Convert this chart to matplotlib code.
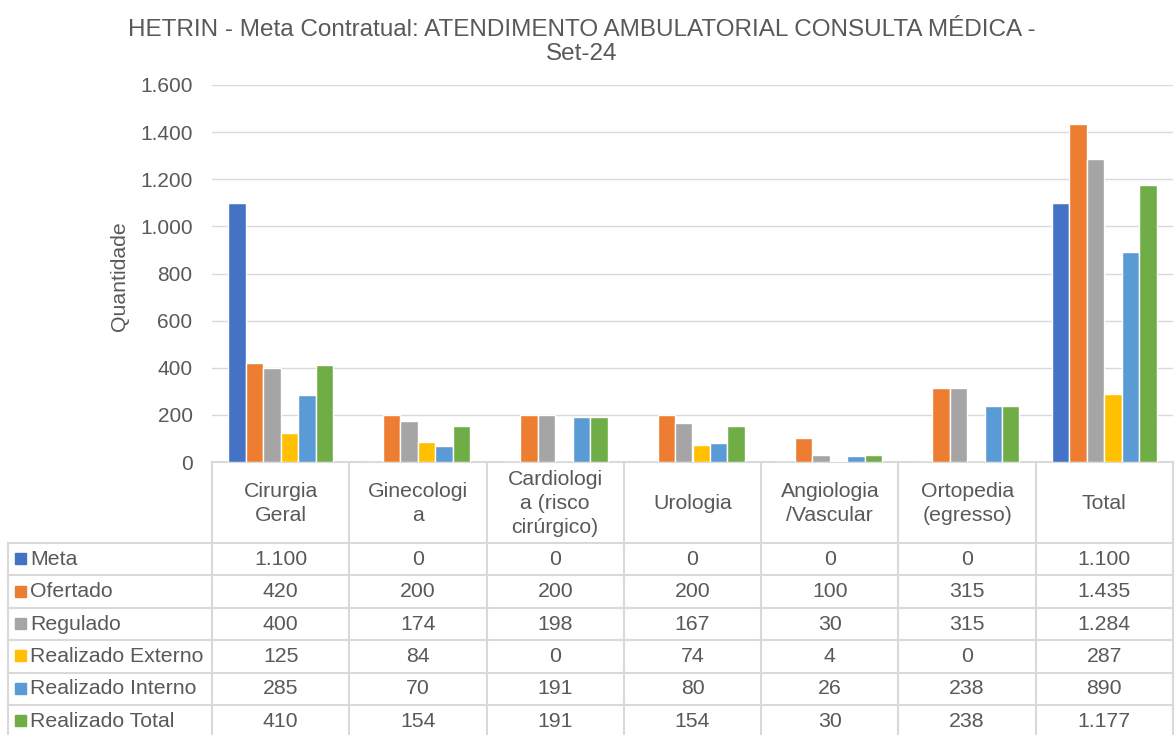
import numpy as np
import matplotlib.pyplot as plt
from matplotlib.ticker import FuncFormatter

plt.rcParams['font.family'] = ['Liberation Sans', 'DejaVu Sans']

# data
categories = ["Cirurgia\nGeral", "Ginecologi\na", "Cardiologi\na (risco\ncirúrgico)", "Urologia",
              "Angiologia\n/Vascular", "Ortopedia\n(egresso)", "Total"]
series_names = ["Meta", "Ofertado", "Regulado", "Realizado Externo", "Realizado Interno", "Realizado Total"]
meta = [1100, 0, 0, 0, 0, 0, 1100]
ofertado = [420, 200, 200, 200, 100, 315, 1435]
regulado = [400, 174, 198, 167, 30, 315, 1284]
real_externo = [125, 84, 0, 74, 4, 0, 287]
real_interno = [285, 70, 191, 80, 26, 238, 890]
real_total = [410, 154, 191, 154, 30, 238, 1177]
colors = ["#4472C4", "#ED7D31", "#A5A5A5", "#FFC000", "#5B9BD5", "#70AD47"]

series = [meta, ofertado, regulado, real_externo, real_interno, real_total]

txt = "#595959"
grid = "#D9D9D9"
W, H = 1175, 735
fs = 15.3

def fmt(v):
    return f"{v:,.0f}".replace(",", ".")

fig = plt.figure(figsize=(W / 100, H / 100), dpi=100)

x_left, x_right, y_top, y_bot = 212, 1173, 85, 462
ax = fig.add_axes([x_left / W, 1 - y_bot / H, (x_right - x_left) / W, (y_bot - y_top) / H])

n = len(categories)
x = np.arange(n)
slot = 0.127
for i, (vals, c) in enumerate(zip(series, colors)):
    ax.bar(x + (i - 2.5) * slot, vals, width=slot, color=c, edgecolor="white", linewidth=1.0, zorder=3)

ax.set_xlim(-0.5, n - 0.5)
ax.set_ylim(0, 1600)
ax.set_yticks(np.arange(0, 1601, 200))
ax.yaxis.set_major_formatter(FuncFormatter(lambda v, p: fmt(v)))
ax.set_xticks([])
ax.tick_params(axis="y", length=0, labelsize=15, labelcolor=txt, pad=14)
ax.grid(axis="y", color=grid, linewidth=1, zorder=0)
for s in ["top", "right", "left"]:
    ax.spines[s].set_visible(False)
ax.spines["bottom"].set_color(grid)
ax.spines["bottom"].set_linewidth(1.5)

fig.text(120 / W, 1 - 276 / H, "Quantidade", rotation=90, ha="center", va="center", fontsize=fs, color=txt)

fig.text(582 / W, 1 - 42 / H, "HETRIN - Meta Contratual: ATENDIMENTO AMBULATORIAL CONSULTA MÉDICA -\nSet-24",
         ha="center", va="center", fontsize=17.5, color=txt, linespacing=1.15)

# data table drawn in pixel coordinates
ov = fig.add_axes([0, 0, 1, 1])
ov.set_xlim(0, W)
ov.set_ylim(H, 0)
ov.axis("off")

cw = (x_right - x_left) / n
col_edges = [x_left + k * cw for k in range(n + 1)]
head_bot = 543
rh = 32.4
row_edges = [head_bot + k * rh for k in range(len(series) + 1)]
tab_left = 8

lw = 1.5
for xe in col_edges:
    ov.plot([xe, xe], [y_bot, H], color=grid, lw=lw)
ov.plot([tab_left, tab_left], [head_bot, H], color=grid, lw=lw)
for ye in row_edges:
    ov.plot([tab_left, x_right], [ye, ye], color=grid, lw=lw)

for j, cat in enumerate(categories):
    ov.text(col_edges[j] + cw / 2, (y_bot + head_bot) / 2 + 1, cat, ha="center", va="center",
            fontsize=fs, color=txt, linespacing=1.32)

for i, (name, vals, c) in enumerate(zip(series_names, series, colors)):
    yc = row_edges[i] + rh / 2
    ov.add_patch(plt.Rectangle((15, yc - 6), 11, 11, color=c))
    ov.text(30, yc, name, ha="left", va="center", fontsize=fs, color=txt)
    for j, v in enumerate(vals):
        ov.text(col_edges[j] + cw / 2, yc, fmt(v), ha="center", va="center", fontsize=fs, color=txt)

fig.savefig("out.png", dpi=100)
